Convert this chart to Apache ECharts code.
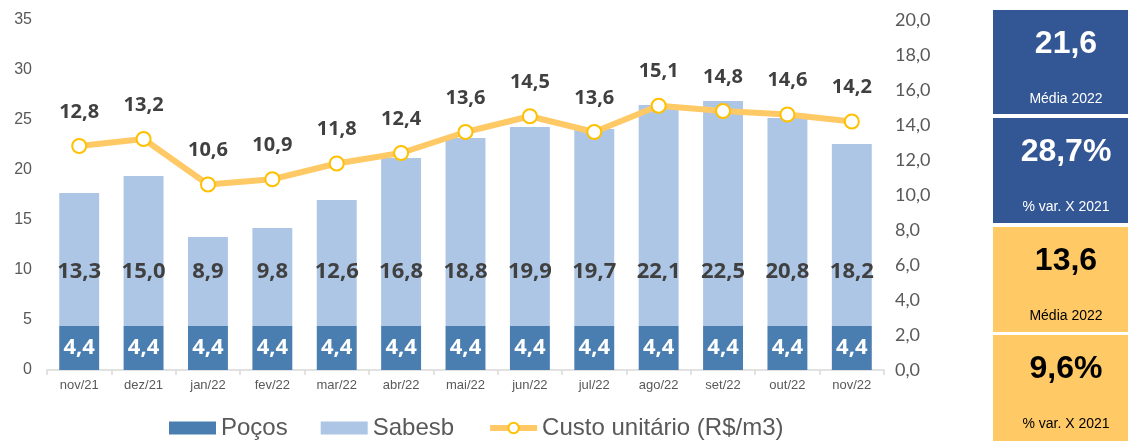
<!DOCTYPE html>
<html>
<head>
<meta charset="utf-8">
<script src="https://cdn.jsdelivr.net/npm/echarts@6/dist/echarts.min.js"></script>
<style>
  html, body { margin: 0; padding: 0; background: #fff; }
  #chart { width: 1128px; height: 441px; }
</style>
</head>
<body>
<div id="chart"></div>
<script>
const categories = ['nov/21', 'dez/21', 'jan/22', 'fev/22', 'mar/22', 'abr/22', 'mai/22', 'jun/22', 'jul/22', 'ago/22', 'set/22', 'out/22', 'nov/22'];
const pocos = [4.4, 4.4, 4.4, 4.4, 4.4, 4.4, 4.4, 4.4, 4.4, 4.4, 4.4, 4.4, 4.4];
const sabesb = [13.3, 15.0, 8.9, 9.8, 12.6, 16.8, 18.8, 19.9, 19.7, 22.1, 22.5, 20.8, 18.2];
const custo = [12.8, 13.2, 10.6, 10.9, 11.8, 12.4, 13.6, 14.5, 13.6, 15.1, 14.8, 14.6, 14.2];

// caixas à direita: [valor, legenda]
const boxValues = ['21,6', '28,7%', '13,6', '9,6%'];
const boxCaptions = ['Média 2022', '% var. X 2021', 'Média 2022', '% var. X 2021'];

const BLUE_BOX = '#335795';
const YELLOW_BOX = '#FFC966';

function fmt(v) {
  return (typeof v === 'number' ? v : v.value).toFixed(1).replace('.', ',');
}

const boxes = [
  { y: 10, h: 104, fill: BLUE_BOX, color: '#fff' },
  { y: 118, h: 105, fill: BLUE_BOX, color: '#fff' },
  { y: 227, h: 105, fill: YELLOW_BOX, color: '#000' },
  { y: 335, h: 106, fill: YELLOW_BOX, color: '#000' }
];

const graphic = [];
boxes.forEach((b, i) => {
  graphic.push({
    type: 'rect',
    shape: { x: 993, y: b.y, width: 135, height: b.h },
    style: { fill: b.fill }
  });
  graphic.push({
    type: 'text',
    x: 1066, y: b.y + 34,
    style: {
      text: boxValues[i], fill: b.color, font: 'bold 32px "Liberation Sans", Arial',
      align: 'center', verticalAlign: 'middle'
    }
  });
  graphic.push({
    type: 'text',
    x: 1066, y: b.y + 89,
    style: {
      text: boxCaptions[i], fill: b.color, font: '14px "Liberation Sans", Arial',
      align: 'center', verticalAlign: 'middle'
    }
  });
});

const chart = echarts.init(document.getElementById('chart'));

const option = {
  animation: false,
  grid: { left: 47, right: 244, top: 20, bottom: 71 },
  legend: {
    left: 164,
    top: 411,
    itemGap: 33,
    itemWidth: 47,
    itemHeight: 13,
    textStyle: { fontSize: 24, color: '#595959', fontFamily: '"Liberation Sans", Arial' },
    data: [
      { name: 'Poços', icon: 'rect' },
      { name: 'Sabesb', icon: 'rect' },
      { name: 'Custo unitário (R$/m3)', lineStyle: { width: 6 } }
    ]
  },
  xAxis: {
    type: 'category',
    data: categories,
    axisLine: { lineStyle: { color: '#D9D9D9', width: 1.5 } },
    axisTick: { show: true, lineStyle: { color: '#D9D9D9', width: 1.5 }, length: 5 },
    axisLabel: { color: '#595959', fontSize: 13, fontFamily: '"Liberation Sans", Arial', margin: 9 }
  },
  yAxis: [
    {
      type: 'value', min: 0, max: 35, interval: 5,
      splitLine: { show: false },
      axisLine: { show: false }, axisTick: { show: false },
      axisLabel: { color: '#595959', fontSize: 16, fontFamily: '"Liberation Sans", Arial', margin: 15 }
    },
    {
      type: 'value', min: 0, max: 20, interval: 2,
      splitLine: { show: false },
      axisLine: { show: false }, axisTick: { show: false },
      axisLabel: {
        color: '#595959', fontSize: 18, fontFamily: 'Lato, "Open Sans"', margin: 11,
        formatter: v => v.toFixed(1).replace('.', ',')
      }
    }
  ],
  series: [
    {
      name: 'Poços',
      type: 'bar',
      stack: 'total',
      barWidth: '62%',
      data: pocos,
      itemStyle: { color: '#4A7EB0' },
      label: {
        show: true, position: 'inside', formatter: p => fmt(p.value),
        color: '#fff', fontSize: 22, fontWeight: 'bold', fontFamily: '"Open Sans", "Noto Sans"'
      }
    },
    {
      name: 'Sabesb',
      type: 'bar',
      stack: 'total',
      data: sabesb,
      itemStyle: { color: '#ADC6E6' },
      label: {
        show: true, position: 'insideBottom', distance: 43, formatter: p => fmt(p.value),
        color: '#404040', fontSize: 22, fontWeight: 'bold', fontFamily: '"Open Sans", "Noto Sans"'
      }
    },
    {
      name: 'Custo unitário (R$/m3)',
      type: 'line',
      yAxisIndex: 1,
      data: custo,
      symbol: 'circle',
      symbolSize: 14,
      lineStyle: { color: '#FFC966', width: 6 },
      itemStyle: { color: '#fff', borderColor: '#FFC000', borderWidth: 2 },
      label: {
        show: true, position: 'top', distance: 16, formatter: p => fmt(p.value),
        color: '#404040', fontSize: 20, fontWeight: 'bold', fontFamily: '"Open Sans", "Noto Sans"'
      },
      z: 5
    }
  ],
  graphic: graphic
};

chart.setOption(option);
window.addEventListener('resize', () => chart.resize());
</script>
</body>
</html>
